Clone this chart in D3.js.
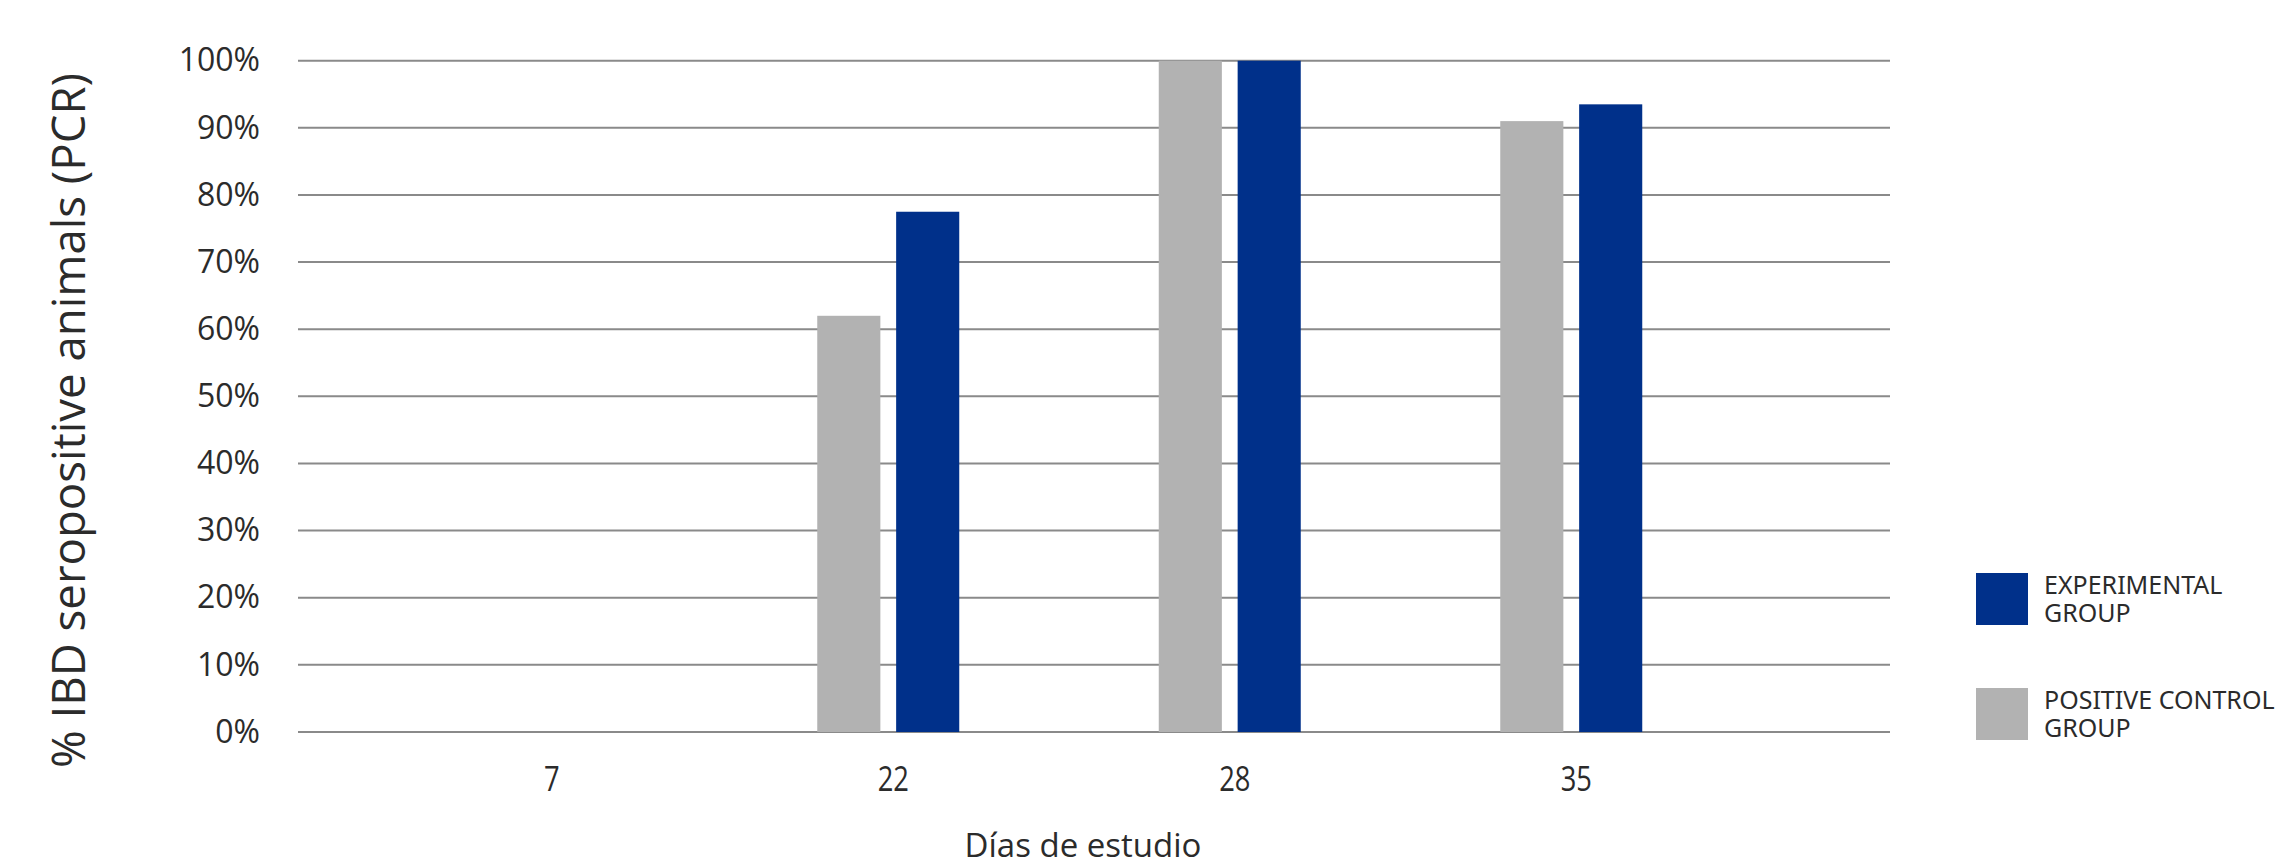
<!DOCTYPE html>
<html>
<head>
<meta charset="utf-8">
<script src="https://cdn.jsdelivr.net/npm/d3@7/dist/d3.min.js"></script>
<style>
  html, body { margin: 0; padding: 0; background: #ffffff; }
  svg { display: block; }
  text { fill: #2b2b2b; }
</style>
</head>
<body>
<svg id="chart" width="2277" height="866"></svg>
<script>
// Study days (categories) and percentage of IBD-seropositive animals per group
const days = ["7", "22", "28", "35"];
const controlGroup = [0, 62, 100, 91];          // POSITIVE CONTROL GROUP
const experimentalGroup = [0, 77.5, 100, 93.5]; // EXPERIMENTAL GROUP
const yTicks = [0, 10, 20, 30, 40, 50, 60, 70, 80, 90, 100];

const seriesNames = [["POSITIVE CONTROL", "GROUP"], ["EXPERIMENTAL", "GROUP"]];
const seriesColors = ["#b2b2b2", "#00308a"];
const legendOrder = [1, 0];

const svg = d3.select("#chart");

// Plot geometry
const gridLeft = 298, gridRight = 1890;
const yTop = 60.7, yBottom = 732;

const y = d3.scaleLinear().domain([0, 100]).range([yBottom, yTop]);
const x = d3.scaleBand().domain(days).range([376, 1742]).paddingInner(0).paddingOuter(0);
// Position of each series inside a day's group
const xSub = d3.scaleBand().domain([0, 1]).range([-71, 71]).paddingInner(0.2).paddingOuter(0);

// Horizontal gridlines
svg.append("g")
  .selectAll("line")
  .data(yTicks)
  .join("line")
  .attr("x1", gridLeft)
  .attr("x2", gridRight)
  .attr("y1", d => y(d))
  .attr("y2", d => y(d))
  .attr("stroke", "#8a8a8a")
  .attr("stroke-width", 2);

// Y axis tick labels
const yAxis = d3.axisLeft(y).tickValues(yTicks).tickFormat(d => d + "%").tickSize(0).tickPadding(0);
const yAxisG = svg.append("g").attr("transform", "translate(260,0)").call(yAxis);
yAxisG.select(".domain").remove();
yAxisG.selectAll("text")
  .attr("font-family", "'Open Sans', sans-serif")
  .attr("font-size", 32)
  .attr("fill", "#2b2b2b")
  .attr("dy", "0.32em");

// Bars
const groups = svg.append("g")
  .selectAll("g")
  .data(days.map((d, i) => ({ day: d, values: [controlGroup[i], experimentalGroup[i]] })))
  .join("g")
  .attr("transform", d => `translate(${x(d.day) + x.bandwidth() / 2},0)`);

groups.selectAll("rect")
  .data(d => d.values.map((v, s) => ({ v, s })))
  .join("rect")
  .attr("x", d => xSub(d.s))
  .attr("width", xSub.bandwidth())
  .attr("y", d => y(d.v))
  .attr("height", d => y(0) - y(d.v))
  .attr("fill", d => seriesColors[d.s]);

// X axis tick labels (condensed)
const xAxisG = svg.append("g");
xAxisG.selectAll("text")
  .data(days)
  .join("text")
  .attr("transform", d => `translate(${x(d) + x.bandwidth() / 2 + 5},791) scale(0.78,1)`)
  .attr("text-anchor", "middle")
  .attr("font-family", "'Open Sans', sans-serif")
  .attr("font-size", 35)
  .attr("fill", "#2b2b2b")
  .text(d => d);

// X axis title
svg.append("text")
  .attr("x", 1083)
  .attr("y", 857)
  .attr("text-anchor", "middle")
  .attr("font-family", "'Open Sans', sans-serif")
  .attr("font-size", 33)
  .attr("fill", "#2b2b2b")
  .text("Días de estudio");

// Y axis title
svg.append("text")
  .attr("transform", "translate(85,420.5) rotate(-90)")
  .attr("text-anchor", "middle")
  .attr("font-family", "'Open Sans', sans-serif")
  .attr("font-size", 45)
  .attr("textLength", 695)
  .attr("lengthAdjust", "spacingAndGlyphs")
  .attr("fill", "#2b2b2b")
  .text("% IBD seropositive animals (PCR)");

// Legend: swatch plus a two-line label per series
const legend = svg.append("g").attr("transform", "translate(1976,573)");
const legendItems = legend.selectAll("g")
  .data(legendOrder)
  .join("g")
  .attr("transform", (d, i) => `translate(0,${i * 115})`);

legendItems.append("rect")
  .attr("width", 52)
  .attr("height", 52)
  .attr("fill", d => seriesColors[d]);

legendItems.append("text")
  .attr("x", 68)
  .attr("y", 20.5)
  .attr("font-family", "'Noto Sans', sans-serif")
  .attr("font-size", 25)
  .attr("fill", "#2b2b2b")
  .selectAll("tspan")
  .data(d => seriesNames[d])
  .join("tspan")
  .attr("x", 68)
  .attr("dy", (l, j) => j === 0 ? 0 : 28.4)
  .text(l => l);
</script>
</body>
</html>
